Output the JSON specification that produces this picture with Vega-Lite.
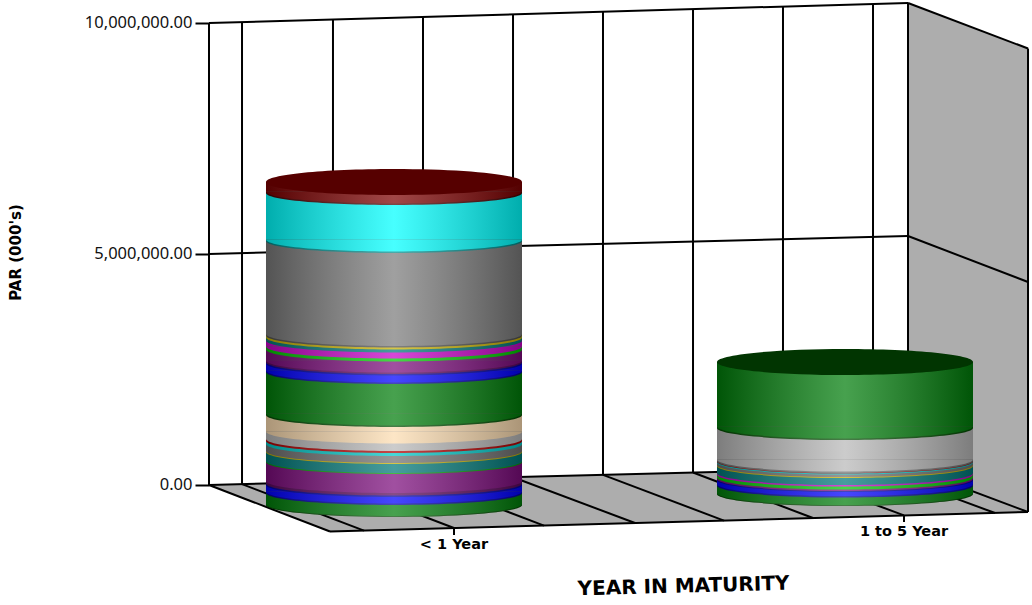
{
"$schema":"https://vega.github.io/schema/vega-lite/v6.json",
"width":1032,"height":605,"padding":0,"autosize":{"type":"none"},"background":"#ffffff",
"config":{"view":{"stroke":null},"scale":{"continuousPadding":0}},
"datasets":{
"surfaces":[
{"surface":"floor","pos":0.5898,"y":0,"y2":0},
{"surface":"floor","pos":0.8581,"y":67532,"y2":-1006493},
{"surface":"floor","pos":2.1397,"y":389610,"y2":-656926},
{"surface":"floor","pos":2.4058,"y":-584415,"y2":-584415},
{"surface":"wall","pos":2.1397,"y":10432890,"y2":389610},
{"surface":"wall","pos":2.4058,"y":9448043,"y2":-584415}
],
"frame":[
{"a":0.5898,"b":2.1397,"y":10000000,"y2":10432890},
{"a":0.5898,"b":2.1397,"y":5000000,"y2":5389605},
{"a":0.5898,"b":2.1397,"y":0,"y2":389610},
{"a":2.1397,"b":2.4058,"y":10432890,"y2":9448043},
{"a":2.1397,"b":2.4058,"y":5389605,"y2":4393935},
{"a":2.1397,"b":2.4058,"y":389610,"y2":-584415},
{"a":2.4058,"b":2.4058,"y":9448043,"y2":-584415},
{"a":0.5898,"b":0.5898,"y":10000000,"y2":0},
{"a":0.6630,"b":0.6630,"y":10020336,"y2":18398},
{"a":0.8647,"b":0.8647,"y":10076830,"y2":69264},
{"a":1.0643,"b":1.0643,"y":10132457,"y2":119048},
{"a":1.2639,"b":1.2639,"y":10188302,"y2":168831},
{"a":1.4634,"b":1.4634,"y":10243929,"y2":219697},
{"a":1.6630,"b":1.6630,"y":10299557,"y2":270563},
{"a":1.8625,"b":1.8625,"y":10355401,"y2":320346},
{"a":2.0621,"b":2.0621,"y":10411245,"y2":370130},
{"a":2.1397,"b":2.1397,"y":10432890,"y2":389610},
{"a":0.5898,"b":0.8581,"y":0,"y2":-1006493},
{"a":0.8581,"b":2.4058,"y":-1006493,"y2":-584415},
{"a":0.6630,"b":0.9335,"y":18398,"y2":-987012},
{"a":0.8647,"b":1.1330,"y":69264,"y2":-930735},
{"a":1.0643,"b":1.3326,"y":119048,"y2":-878787},
{"a":1.2639,"b":1.5344,"y":168831,"y2":-822510},
{"a":1.4634,"b":1.7317,"y":219697,"y2":-770562},
{"a":1.6630,"b":1.9290,"y":270563,"y2":-714285},
{"a":1.8625,"b":2.1308,"y":320346,"y2":-658008},
{"a":2.0621,"b":2.3326,"y":370130,"y2":-606060},
{"a":1.1330,"b":1.1330,"y":-930735,"y2":-1082250},
{"a":2.1308,"b":2.1308,"y":-658008,"y2":-800865}
],
"bands":[
{"pos":1,"series":"Green edge","low":-432900,"high":-411255},
{"pos":1,"series":"Green","low":-411255,"high":-173160},
{"pos":1,"series":"Navy","low":-173160,"high":-140693},
{"pos":1,"series":"Blue","low":-140693,"high":0},
{"pos":1,"series":"Navy","low":0,"high":32468},
{"pos":1,"series":"Purple edge","low":32468,"high":86580},
{"pos":1,"series":"Purple","low":86580,"high":497835},
{"pos":1,"series":"Thin green","low":497835,"high":519480},
{"pos":1,"series":"Teal","low":519480,"high":714285},
{"pos":1,"series":"Yellow","low":714285,"high":735930},
{"pos":1,"series":"Dim gray","low":735930,"high":887445},
{"pos":1,"series":"Thin cyan","low":887445,"high":952380},
{"pos":1,"series":"Red","low":952380,"high":995670},
{"pos":1,"series":"Light gray","low":995670,"high":1158008},
{"pos":1,"series":"Wheat","low":1158008,"high":1515150},
{"pos":1,"series":"Green edge","low":1515150,"high":1547618},
{"pos":1,"series":"Green","low":1547618,"high":2445885},
{"pos":1,"series":"Navy","low":2445885,"high":2478353},
{"pos":1,"series":"Blue","low":2478353,"high":2629868},
{"pos":1,"series":"Navy","low":2629868,"high":2662335},
{"pos":1,"series":"Purple edge","low":2662335,"high":2694803},
{"pos":1,"series":"Purple","low":2694803,"high":2932898},
{"pos":1,"series":"Bright green","low":2932898,"high":2997833},
{"pos":1,"series":"Magenta","low":2997833,"high":3127703},
{"pos":1,"series":"Teal","low":3127703,"high":3192638},
{"pos":1,"series":"Yellow","low":3192638,"high":3235928},
{"pos":1,"series":"Gray edge","low":3235928,"high":3268395},
{"pos":1,"series":"Gray","low":3268395,"high":5281380},
{"pos":1,"series":"Cyan edge","low":5281380,"high":5313848},
{"pos":1,"series":"Cyan","low":5313848,"high":6320340},
{"pos":1,"series":"Maroon edge","low":6320340,"high":6352808},
{"pos":1,"series":"Maroon","low":6352808,"high":6558435},
{"pos":2,"series":"Green edge","low":-194805,"high":-173160},
{"pos":2,"series":"Green","low":-173160,"high":-10823},
{"pos":2,"series":"Navy","low":-10823,"high":21645},
{"pos":2,"series":"Blue","low":21645,"high":108225},
{"pos":2,"series":"Navy","low":108225,"high":129870},
{"pos":2,"series":"Purple","low":129870,"high":162338},
{"pos":2,"series":"Bright green","low":162338,"high":227273},
{"pos":2,"series":"Magenta","low":227273,"high":259740},
{"pos":2,"series":"Teal","low":259740,"high":411255},
{"pos":2,"series":"Yellow","low":411255,"high":432900},
{"pos":2,"series":"Dim gray","low":432900,"high":487013},
{"pos":2,"series":"Thin cyan","low":487013,"high":508658},
{"pos":2,"series":"Red","low":508658,"high":519480},
{"pos":2,"series":"Dim gray","low":519480,"high":551948},
{"pos":2,"series":"Light gray","low":551948,"high":1233765},
{"pos":2,"series":"Green edge","low":1233765,"high":1266233},
{"pos":2,"series":"Green","low":1266233,"high":2662335}
],
"cylinders":[
{"category":"< 1 Year","pos":1,"bottom":-432900,"top":6558435,"cap":"Cap maroon"},
{"category":"1 to 5 Year","pos":2,"bottom":-194805,"top":2662335,"cap":"Cap green"}
],
"labels":[
{"label":"< 1 Year","pos":1.1330,"y":-1298700},
{"label":"1 to 5 Year","pos":2.1308,"y":-1017315}
]
},
"layer":[
{"data":{"name":"surfaces"},
 "mark":{"type":"area","color":"#adadad","line":false},
 "encoding":{
  "x":{"field":"pos","type":"quantitative","scale":{"domain":[0.12639,2.41463],"nice":false,"zero":false},
   "axis":{"title":"YEAR IN MATURITY","labels":false,"ticks":false,"domain":false,"grid":false,"titleFont":"DejaVu Sans","titleFontWeight":"bold","titleFontSize":20,"titleColor":"#000000","titleX":683,"titleY":-19,"titleAngle":358.5,"titleBaseline":"middle","titleAlign":"center","titleAnchor":null}},
  "y":{"field":"y","type":"quantitative","stack":null,"scale":{"domain":[-2597403,10497835],"nice":false,"zero":false},
   "axis":{"title":"PAR (000's)","values":[0,5000000,10000000],"format":",.2f","offset":-209,"domain":false,"grid":false,"tickSize":14,"tickWidth":2,"tickColor":"#000000","labelPadding":3,"labelFont":"Noto Sans","labelFontSize":16.5,"labelColor":"#111111","titleFont":"DejaVu Sans","titleFontWeight":"bold","titleFontSize":15,"titleColor":"#000000","titleX":-194,"titleY":252,"titleAngle":270,"titleBaseline":"middle","titleAlign":"center","titleAnchor":null}},
  "y2":{"field":"y2"},
  "detail":{"field":"surface"}}},
{"data":{"name":"frame"},
 "mark":{"type":"rule","color":"#000000","strokeWidth":2},
 "encoding":{
  "x":{"field":"a","type":"quantitative","scale":{"domain":[0.12639,2.41463],"nice":false,"zero":false}},
  "x2":{"field":"b"},
  "y":{"field":"y","type":"quantitative","scale":{"domain":[-2597403,10497835],"nice":false,"zero":false}},
  "y2":{"field":"y2"}}},
{"data":{"name":"cylinders"},
 "mark":{"type":"bar","size":256,"color":"#707070"},
 "encoding":{
  "x":{"field":"pos","type":"quantitative","scale":{"domain":[0.12639,2.41463],"nice":false,"zero":false}},
  "y":{"field":"bottom","type":"quantitative","scale":{"domain":[-2597403,10497835],"nice":false,"zero":false}},
  "y2":{"field":"top"}}},
{"data":{"name":"bands"},
 "mark":{"type":"bar","size":256},
 "encoding":{
  "x":{"field":"pos","type":"quantitative","scale":{"domain":[0.12639,2.41463],"nice":false,"zero":false}},
  "y":{"field":"low","type":"quantitative","scale":{"domain":[-2597403,10497835],"nice":false,"zero":false}},
  "y2":{"field":"high"},
  "color":{"field":"series","type":"nominal","legend":null,"scale":{"domain":["Green edge","Green","Navy","Blue","Purple edge","Purple","Thin green","Teal","Yellow","Dim gray","Thin cyan","Red","Light gray","Wheat","Bright green","Magenta","Gray edge","Gray","Cyan edge","Cyan","Maroon edge","Maroon","Cap maroon","Cap green"],"range":["#004c00","#007d0a","#0000a0","#0000ff","#5a085a","#7c0c7c","#00a000","#007878","#c8b000","#707070","#00c8c8","#b00000","#b8b8b8","#fcdcb0","#00c800","#c800c8","#505050","#7b7b7b","#008c8c","#00ffff","#4a0000","#7c0000","#560000","#013501"]}}}},
{"data":{"name":"bands"},
 "mark":{"type":"point","filled":true,"opacity":1,"strokeWidth":0,"size":65536,"shape":"M-1,0 C-1,0.0518 -0.5523,0.0938 0,0.0938 C0.5523,0.0938 1,0.0518 1,0 Z"},
 "encoding":{
  "x":{"field":"pos","type":"quantitative","scale":{"domain":[0.12639,2.41463],"nice":false,"zero":false}},
  "y":{"field":"low","type":"quantitative","scale":{"domain":[-2597403,10497835],"nice":false,"zero":false}},
  "color":{"field":"series","type":"nominal","legend":null}}},
{"data":{"name":"cylinders"},
 "mark":{"type":"bar","size":256,"fill":{"gradient":"linear","x1":0,"x2":1,"y1":0,"y2":0,"stops":[{"offset":0,"color":"rgba(0,0,0,0.32)"},{"offset":0.5,"color":"rgba(255,255,255,0.28)"},{"offset":1,"color":"rgba(0,0,0,0.32)"}]}},
 "encoding":{
  "x":{"field":"pos","type":"quantitative","scale":{"domain":[0.12639,2.41463],"nice":false,"zero":false}},
  "y":{"field":"bottom","type":"quantitative","scale":{"domain":[-2597403,10497835],"nice":false,"zero":false}},
  "y2":{"field":"top"}}},
{"data":{"name":"cylinders"},
 "mark":{"type":"point","filled":true,"opacity":1,"strokeWidth":0,"size":65536,"shape":"M-1,0 C-1,0.0518 -0.5523,0.0938 0,0.0938 C0.5523,0.0938 1,0.0518 1,0 Z","fill":{"gradient":"linear","x1":0,"x2":1,"y1":0,"y2":0,"stops":[{"offset":0,"color":"rgba(0,0,0,0.32)"},{"offset":0.5,"color":"rgba(255,255,255,0.28)"},{"offset":1,"color":"rgba(0,0,0,0.32)"}]}},
 "encoding":{
  "x":{"field":"pos","type":"quantitative","scale":{"domain":[0.12639,2.41463],"nice":false,"zero":false}},
  "y":{"field":"bottom","type":"quantitative","scale":{"domain":[-2597403,10497835],"nice":false,"zero":false}}}},
{"data":{"name":"cylinders"},
 "mark":{"type":"point","filled":true,"opacity":1,"strokeWidth":0,"size":65536,"shape":"M-1,0 C-1,-0.0565 -0.5523,-0.1016 0,-0.1016 C0.5523,-0.1016 1,-0.0565 1,0 C1,0.0565 0.5523,0.1016 0,0.1016 C-0.5523,0.1016 -1,0.0565 -1,0 Z"},
 "encoding":{
  "x":{"field":"pos","type":"quantitative","scale":{"domain":[0.12639,2.41463],"nice":false,"zero":false}},
  "y":{"field":"top","type":"quantitative","scale":{"domain":[-2597403,10497835],"nice":false,"zero":false}},
  "color":{"field":"cap","type":"nominal","legend":null}}},
{"data":{"name":"labels"},
 "mark":{"type":"text","font":"DejaVu Sans","fontWeight":"bold","fontSize":14.5,"color":"#000000","align":"center","baseline":"middle"},
 "encoding":{
  "x":{"field":"pos","type":"quantitative","scale":{"domain":[0.12639,2.41463],"nice":false,"zero":false}},
  "y":{"field":"y","type":"quantitative","scale":{"domain":[-2597403,10497835],"nice":false,"zero":false}},
  "text":{"field":"label"}}}
]
}
